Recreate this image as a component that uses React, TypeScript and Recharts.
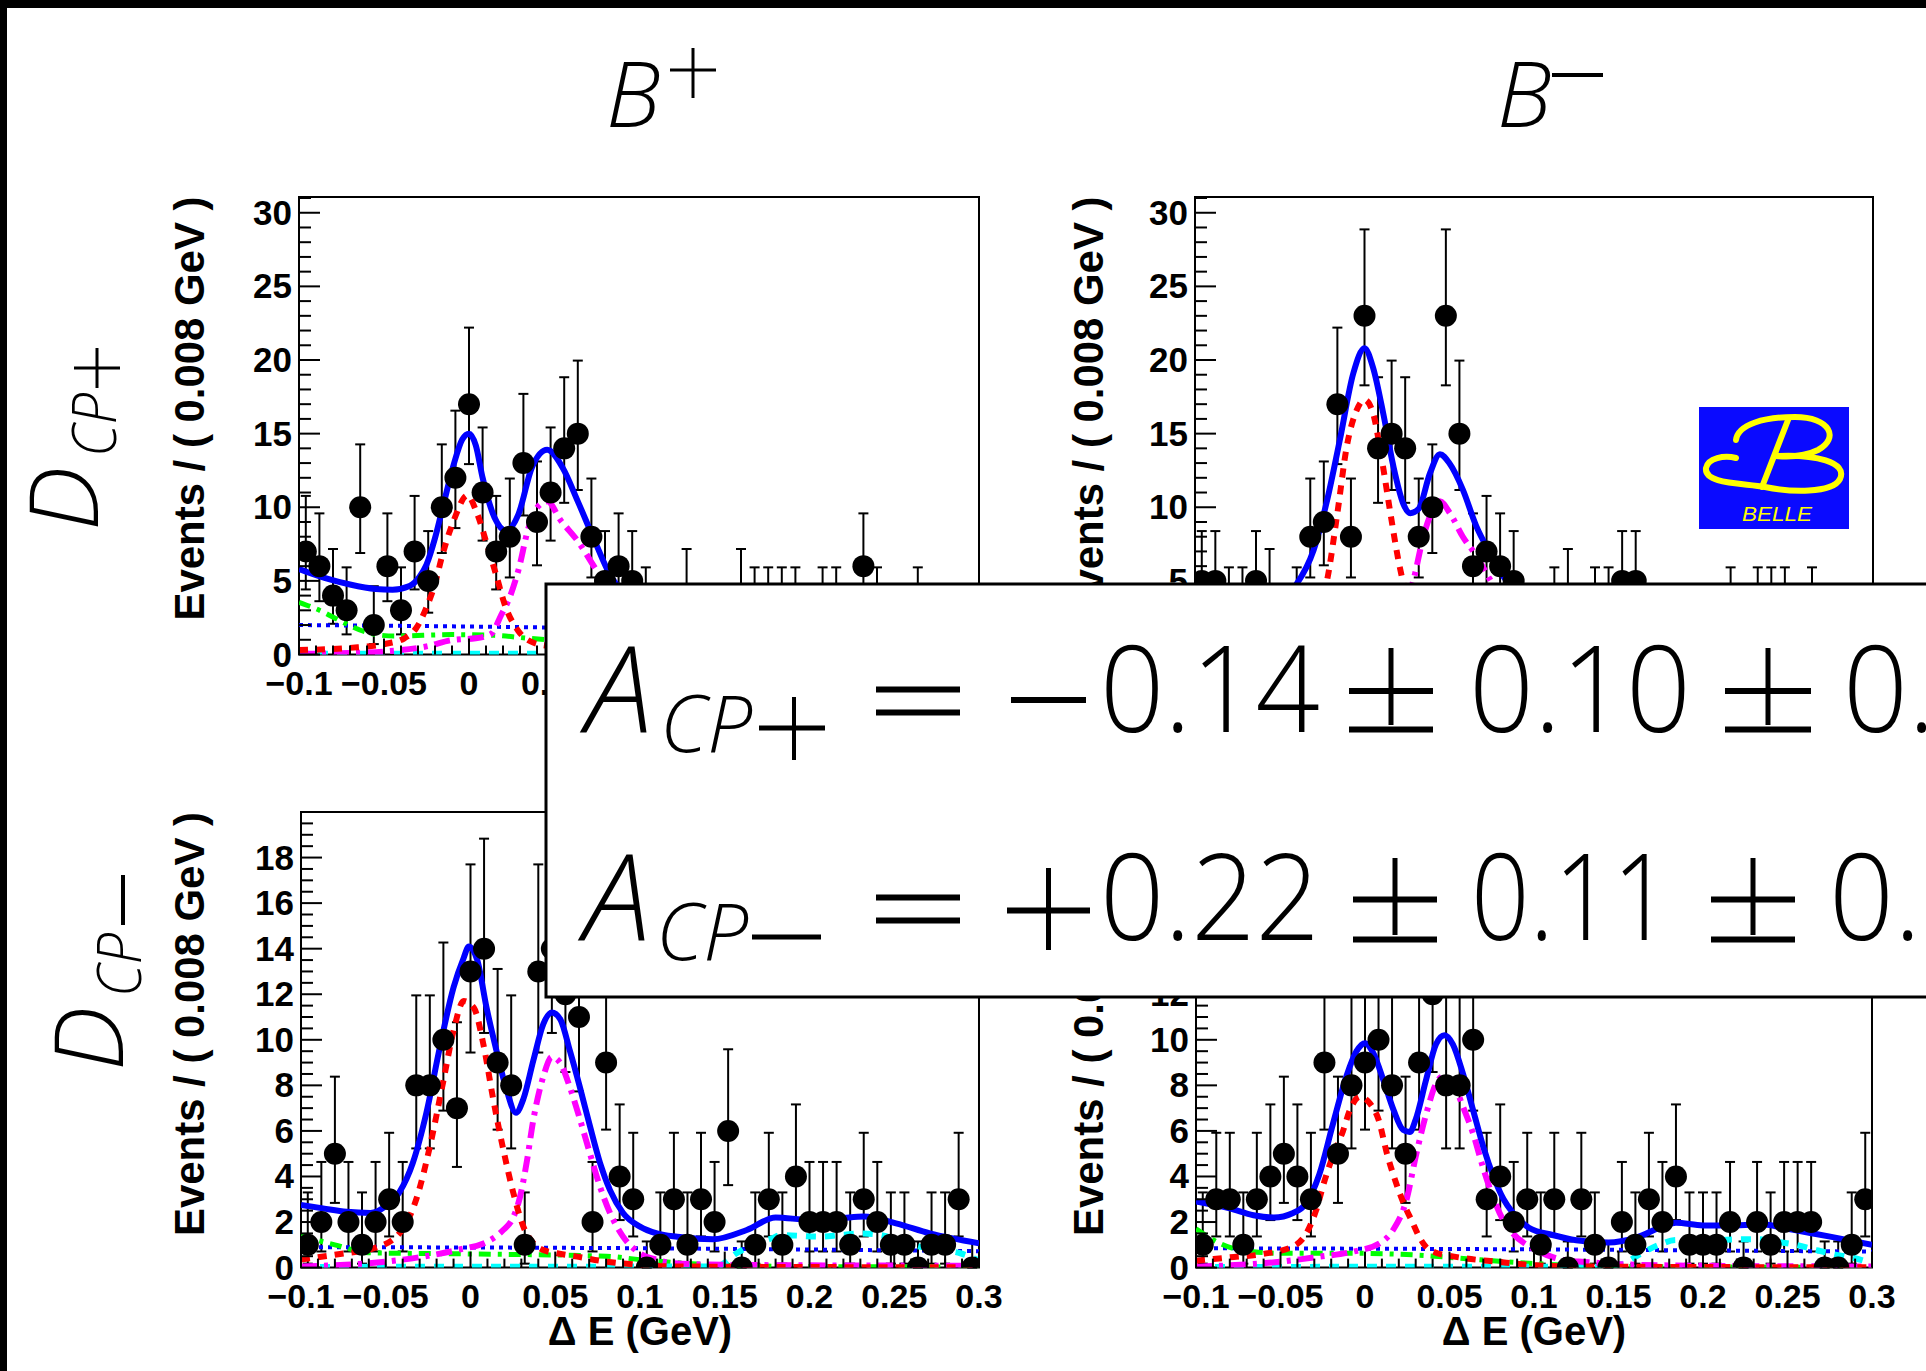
import React from "react";
import { ComposedChart, Line, Scatter, ErrorBar, XAxis, YAxis, ReferenceArea } from "recharts";

// bin centres of the 0.008 GeV histogram
const BIN_CENTERS = [
  -0.096, -0.088, -0.08, -0.072, -0.064, -0.056, -0.048, -0.04, -0.032, -0.024,
  -0.016, -0.008, 0, 0.008, 0.016, 0.024, 0.032, 0.04, 0.048, 0.056,
  0.064, 0.072, 0.08, 0.088, 0.096, 0.104, 0.112, 0.12, 0.128, 0.136,
  0.144, 0.152, 0.16, 0.168, 0.176, 0.184, 0.192, 0.2, 0.208, 0.216,
  0.224, 0.232, 0.24, 0.248, 0.256, 0.264, 0.272, 0.28, 0.288, 0.296,
];

// events per bin
const PLUS_CPP_COUNTS = [7,6,4,3,10,2,6,3,7,5,10,12,17,11,7,8,13,9,11,14,15,8,5,6,5,3,2,1,4,2,1,2,4,3,3,3,3,2,3,3,1,6,3,2,0,3,2,1,2,1];
const MINUS_CPP_COUNTS = [5,5,3,3,5,4,2,3,8,9,17,8,23,14,15,14,8,10,23,15,6,7,6,5,2,1,3,4,2,3,3,5,5,2,1,2,2,1,2,3,2,3,3,3,2,3,1,2,1,2];
const PLUS_CPM_COUNTS = [1,2,5,2,1,2,3,2,8,8,10,7,13,14,9,8,1,13,14,12,11,2,9,4,3,0,1,3,1,3,2,6,0,1,3,1,4,2,2,2,1,3,2,1,1,0,1,1,3,0];
const MINUS_CPM_COUNTS = [1,3,3,1,3,4,5,4,3,9,5,8,9,10,8,5,9,12,8,8,10,3,4,2,3,1,3,0,3,1,0,2,1,3,2,4,1,1,1,2,0,2,1,2,2,2,0,0,1,3];

// 68% Poisson interval for n = 0..23 (lower / upper edge of the error bar)
const POISSON_LOW = [0,0.173,0.708,1.367,2.086,2.84,3.62,4.419,5.232,6.057,6.891,7.734,8.585,9.441,10.3,11.17,12.05,12.93,13.81,14.7,15.59,16.48,17.38,18.28];
const POISSON_HIGH = [1.148,3.3,4.638,5.918,7.163,8.382,9.584,10.77,11.95,13.11,14.27,15.42,16.56,17.7,18.83,19.96,21.08,22.2,23.32,24.44,25.55,26.66,27.76,28.87];

// fit curves, [dE, events]
const PLUS_CPP_TOTAL = [[-0.1,5.8],[-0.085,5.2],[-0.07,4.75],[-0.055,4.45],[-0.045,4.4],[-0.035,4.65],[-0.029,5.3],[-0.025,6.1],[-0.02,7.9],[-0.015,10.2],[-0.009,12.9],[-0.004,14.6],[0,15.0],[0.004,14.2],[0.008,12.0],[0.015,9.3],[0.022,8.4],[0.029,9.5],[0.037,12.7],[0.046,13.9],[0.055,12.7],[0.064,10.4],[0.074,7.7],[0.083,5.4],[0.09,4.3],[0.1,3.3],[0.11,2.9],[0.13,2.6],[0.15,2.4],[0.17,2.9],[0.19,3.0],[0.22,2.9],[0.25,2.7],[0.28,2.2],[0.3,1.9]];
const PLUS_CPP_SIG = [[-0.1,0.3],[-0.07,0.45],[-0.05,0.7],[-0.038,1.1],[-0.031,1.8],[-0.025,3.2],[-0.02,4.8],[-0.016,6.6],[-0.009,9.1],[-0.001,10.8],[0.005,9.5],[0.011,7.3],[0.016,5.4],[0.021,3.4],[0.029,1.6],[0.038,0.8],[0.05,0.55],[0.07,0.42],[0.1,0.3],[0.15,0.15],[0.2,0.08],[0.3,0.03]];
const PLUS_CPP_PEAK2 = [[-0.1,0.05],[-0.07,0.1],[-0.05,0.2],[-0.025,0.55],[-0.009,1.0],[0.004,1.1],[0.013,1.4],[0.019,2.7],[0.024,3.9],[0.029,5.7],[0.035,8.6],[0.041,10.1],[0.046,10.4],[0.054,9.1],[0.064,7.7],[0.074,5.9],[0.083,4.3],[0.095,2.6],[0.11,1.2],[0.13,0.5],[0.16,0.2],[0.2,0.1],[0.3,0.05]];
const PLUS_CPP_BKG_A = [[-0.1,3.55],[-0.086,2.9],[-0.076,2.3],[-0.06,1.5],[-0.044,1.25],[-0.01,1.35],[0.015,1.3],[0.035,1.1],[0.06,0.9],[0.1,0.6],[0.15,0.3],[0.2,0.15],[0.3,0.05]];
const PLUS_CPP_BKG_B = [[-0.1,2.0],[0,1.9],[0.1,1.75],[0.2,1.6],[0.3,1.45]];
const PLUS_CPP_BKG_C = [[-0.1,0.05],[0.14,0.05],[0.15,0.15],[0.165,0.6],[0.18,0.9],[0.2,0.85],[0.23,0.9],[0.26,0.7],[0.28,0.45],[0.3,0.25]];

const MINUS_CPP_TOTAL = [[-0.1,4.0],[-0.08,3.6],[-0.06,3.4],[-0.05,3.6],[-0.045,4.1],[-0.04,4.8],[-0.03,7.1],[-0.022,10.5],[-0.0145,14.6],[-0.0066,19.1],[0,20.8],[0.005,19.5],[0.011,16.4],[0.017,12.8],[0.023,10.2],[0.027,9.6],[0.032,9.9],[0.0386,12.3],[0.0445,13.6],[0.05,13.0],[0.058,11.2],[0.066,8.7],[0.074,6.9],[0.082,5.3],[0.086,4.7],[0.095,3.6],[0.11,2.8],[0.13,2.5],[0.15,2.4],[0.17,2.8],[0.19,2.9],[0.22,2.8],[0.25,2.6],[0.28,2.2],[0.3,1.9]];
const MINUS_CPP_SIG = [[-0.1,0.3],[-0.06,0.6],[-0.04,1.3],[-0.03,2.6],[-0.022,5.1],[-0.016,9.6],[-0.0105,14.1],[-0.0046,16.6],[0,17.3],[0.005,16.4],[0.01,13.4],[0.015,9.8],[0.02,6.4],[0.023,4.8],[0.03,2.2],[0.04,1.0],[0.05,0.7],[0.07,0.5],[0.1,0.3],[0.15,0.15],[0.2,0.08],[0.3,0.03]];
const MINUS_CPP_PEAK2 = [[-0.1,0.05],[-0.05,0.2],[-0.01,0.9],[0.01,1.2],[0.02,2.0],[0.025,3.5],[0.029,5.1],[0.0347,8.0],[0.0406,9.9],[0.0445,10.4],[0.0504,9.6],[0.058,8.0],[0.066,6.7],[0.074,5.1],[0.085,3.2],[0.1,1.5],[0.12,0.6],[0.15,0.2],[0.2,0.1],[0.3,0.05]];
const MINUS_CPP_BKG_A = [[-0.1,2.5],[-0.08,1.6],[-0.06,1.1],[-0.02,1.0],[0.04,0.9],[0.1,0.5],[0.15,0.25],[0.2,0.1],[0.3,0.05]];
const MINUS_CPP_BKG_B = [[-0.1,1.5],[0.1,1.35],[0.3,1.1]];
const MINUS_CPP_BKG_C = [[-0.1,0.05],[0.14,0.05],[0.15,0.15],[0.165,0.6],[0.18,0.9],[0.2,0.85],[0.23,0.9],[0.26,0.7],[0.28,0.45],[0.3,0.25]];

const PLUS_CPM_TOTAL = [[-0.1,2.75],[-0.087,2.6],[-0.073,2.45],[-0.059,2.4],[-0.05,2.7],[-0.042,3.3],[-0.034,4.6],[-0.026,6.8],[-0.018,9.7],[-0.01,12.3],[-0.004,13.6],[-0.001,14.1],[0.004,13.5],[0.0095,11.4],[0.0154,9.5],[0.0213,7.8],[0.0268,6.8],[0.0312,7.4],[0.0371,9.1],[0.043,10.7],[0.048,11.2],[0.053,10.9],[0.0587,9.5],[0.0646,7.9],[0.0705,6.2],[0.0764,4.6],[0.0823,3.4],[0.09,2.4],[0.1,1.8],[0.11,1.5],[0.122,1.35],[0.143,1.24],[0.163,1.65],[0.18,2.2],[0.2,2.1],[0.218,2.16],[0.232,2.24],[0.251,1.94],[0.271,1.5],[0.3,1.07]];
const PLUS_CPM_SIG = [[-0.1,0.35],[-0.077,0.6],[-0.057,0.85],[-0.042,1.5],[-0.032,3.0],[-0.024,5.3],[-0.016,8.2],[-0.01,10.4],[-0.004,11.7],[0.002,11.4],[0.0076,9.8],[0.0135,7.35],[0.0193,5.2],[0.0252,3.3],[0.0312,1.8],[0.0371,1.07],[0.043,0.77],[0.051,0.63],[0.063,0.48],[0.08,0.26],[0.1,0.12],[0.12,0.05],[0.3,0.01]];
const PLUS_CPM_PEAK2 = [[-0.1,0.05],[-0.05,0.26],[-0.028,0.48],[-0.008,0.77],[0.0115,1.2],[0.0193,1.65],[0.0252,2.2],[0.0292,3.1],[0.0331,4.6],[0.0371,6.5],[0.043,8.4],[0.0479,9.25],[0.0528,9.0],[0.0587,7.9],[0.0646,6.5],[0.0705,5.0],[0.0764,3.55],[0.0823,2.4],[0.09,1.36],[0.1,0.63],[0.11,0.34],[0.12,0.19],[0.15,0.12],[0.3,0.08]];
const PLUS_CPM_BKG_A = [[-0.1,1.4],[-0.08,1.0],[-0.06,0.65],[0,0.6],[0.08,0.5],[0.1,0.35],[0.15,0.1],[0.2,0.05],[0.3,0.02]];
const PLUS_CPM_BKG_B = [[-0.1,0.9],[0.1,0.85],[0.3,0.72]];
const PLUS_CPM_BKG_C = [[-0.1,0.03],[0.145,0.05],[0.157,0.63],[0.166,1.0],[0.178,1.29],[0.183,1.43],[0.206,1.36],[0.218,1.43],[0.23,1.5],[0.242,1.43],[0.253,1.2],[0.265,0.92],[0.277,0.77],[0.289,0.63],[0.299,0.34]];

const MINUS_CPM_TOTAL = [[-0.1,2.9],[-0.08,2.6],[-0.066,2.3],[-0.054,2.2],[-0.0425,2.4],[-0.035,2.8],[-0.027,4.1],[-0.019,6.3],[-0.011,8.4],[-0.005,9.5],[0,9.85],[0.005,9.4],[0.011,8.2],[0.017,6.9],[0.0225,6.05],[0.0265,5.95],[0.03,6.5],[0.036,8.2],[0.042,9.8],[0.047,10.2],[0.052,9.8],[0.058,8.5],[0.064,6.9],[0.07,5.3],[0.076,4.0],[0.082,3.0],[0.0875,2.4],[0.097,1.75],[0.111,1.43],[0.125,1.2],[0.144,1.1],[0.16,1.3],[0.177,1.83],[0.184,1.97],[0.2,1.85],[0.215,1.85],[0.235,1.9],[0.25,1.7],[0.265,1.5],[0.276,1.35],[0.3,1.0]];
const MINUS_CPM_SIG = [[-0.1,0.3],[-0.08,0.45],[-0.06,0.6],[-0.042,0.95],[-0.034,1.6],[-0.029,2.5],[-0.024,3.8],[-0.019,4.9],[-0.013,6.0],[-0.009,6.9],[-0.003,7.5],[0.003,7.2],[0.008,6.5],[0.013,5.0],[0.018,3.8],[0.023,2.8],[0.028,2.0],[0.032,1.36],[0.036,0.92],[0.042,0.65],[0.05,0.52],[0.06,0.4],[0.078,0.26],[0.097,0.12],[0.12,0.05],[0.3,0.01]];
const MINUS_CPM_PEAK2 = [[-0.1,0.04],[-0.05,0.26],[-0.027,0.48],[-0.007,0.7],[0.0087,1.07],[0.0166,1.65],[0.0245,2.97],[0.0304,5.0],[0.0363,6.77],[0.0422,8.1],[0.0462,8.4],[0.0521,8.1],[0.058,7.06],[0.0639,5.9],[0.0698,4.4],[0.0757,3.1],[0.0816,2.1],[0.0875,1.5],[0.0974,0.92],[0.1073,0.56],[0.1171,0.34],[0.13,0.25],[0.15,0.15],[0.2,0.08],[0.3,0.05]];
const MINUS_CPM_BKG_A = [[-0.1,1.7],[-0.086,1.07],[-0.074,0.77],[-0.05,0.63],[-0.011,0.63],[0.028,0.56],[0.068,0.34],[0.097,0.19],[0.13,0.08],[0.2,0.03],[0.3,0.01]];
const MINUS_CPM_BKG_B = [[-0.1,0.85],[0.1,0.8],[0.3,0.7]];
const MINUS_CPM_BKG_C = [[-0.1,0.03],[0.14,0.04],[0.152,0.15],[0.162,0.56],[0.174,1.0],[0.184,1.21],[0.198,1.1],[0.21,1.21],[0.222,1.24],[0.233,1.24],[0.243,1.14],[0.255,1.0],[0.267,0.77],[0.279,0.56],[0.29,0.41],[0.3,0.19]];

// axis ticks and labels
const X_MAJOR = [-0.1, -0.05, 0, 0.05, 0.1, 0.15, 0.2, 0.25, 0.3];
const X_LABELS = ["\u22120.1", "\u22120.05", "0", "0.05", "0.1", "0.15", "0.2", "0.25", "0.3"];
const Y_MAJOR_TOP = [0, 5, 10, 15, 20, 25, 30];
const Y_LABELS_TOP = ["0", "5", "10", "15", "20", "25", "30"];
const Y_MAJOR_BOT = [0, 2, 4, 6, 8, 10, 12, 14, 16, 18];
const Y_LABELS_BOT = ["0", "2", "4", "6", "8", "10", "12", "14", "16", "18"];

const X_MINOR = Array.from({ length: 41 }, (_, i) => Math.round((-0.1 + i * 0.01) * 1000) / 1000);
const Y_MINOR_TOP = Array.from({ length: 32 }, (_, i) => i);
const Y_MINOR_BOT = Array.from({ length: 41 }, (_, i) => i * 0.5);

const BOLD = "'Liberation Sans', Arial, Helvetica, sans-serif";
const LIGHT = "'Open Sans', Lato, 'Noto Sans', sans-serif";

const toPts = (arr: number[][]) => arr.map(([x, y]) => ({ x, y }));

const findLabel = (v: number, major: number[], labels: string[]) => {
  const i = major.findIndex((m) => Math.abs(m - v) < 1e-6);
  return i >= 0 ? labels[i] : null;
};

type Curves = { total: number[][]; sig: number[][]; peak2: number[][]; bkgA: number[][]; bkgB: number[][]; bkgC: number[][] };

function Panel(props: {
  left: number; top: number; width: number; height: number; yMax: number;
  yMinor: number[]; yMajor: number[]; yLabels: string[]; counts: number[]; curves: Curves;
}) {
  const { left, top, width, height, yMax, yMinor, yMajor, yLabels, counts, curves } = props;
  const W = width + 200;
  const H = height + 110;
  const pl = 150;
  const pb = 20 + height;
  const points = BIN_CENTERS.map((x, i) => {
    const n = counts[i];
    return { x, y: n, err: [n - POISSON_LOW[n], POISSON_HIGH[n] - n] };
  });

  const xTick = (p: any) => {
    const lab = findLabel(p.payload.value, X_MAJOR, X_LABELS);
    return (
      <g>
        <line x1={p.x} x2={p.x} y1={pb} y2={pb - (lab ? 16 : 9)} stroke="#000" strokeWidth={2} />
        {lab && (
          <text x={p.x} y={pb + 40} textAnchor="middle" fontFamily={BOLD} fontWeight="bold" fontSize={34} fill="#000">
            {lab}
          </text>
        )}
      </g>
    );
  };
  const yTick = (p: any) => {
    const lab = findLabel(p.payload.value, yMajor, yLabels);
    return (
      <g>
        <line x1={pl} x2={pl + (lab ? 21 : 12)} y1={p.y} y2={p.y} stroke="#000" strokeWidth={2} />
        {lab && (
          <text x={pl - 7} y={p.y + 12} textAnchor="end" fontFamily={BOLD} fontWeight="bold" fontSize={35} fill="#000">
            {lab}
          </text>
        )}
      </g>
    );
  };
  const dot = (s: any) => <circle cx={s.cx} cy={s.cy} r={11} fill="#000" />;

  return (
    <div style={{ position: "absolute", left: left - 150, top: top - 20, width: W, height: H }}>
      <ComposedChart width={W} height={H} margin={{ left: 140, top: 20, right: 50, bottom: 80 }}>
        <XAxis dataKey="x" type="number" domain={[-0.1, 0.3]} ticks={X_MINOR} interval={0} tick={xTick}
          tickLine={false} axisLine={false} height={10} allowDataOverflow />
        <YAxis dataKey="y" type="number" domain={[0, yMax]} ticks={yMinor} interval={0} tick={yTick}
          tickLine={false} axisLine={false} width={10} allowDataOverflow />
        <ReferenceArea x1={-0.1} x2={0.3} y1={0} y2={yMax} fill="none" stroke="#000" strokeWidth={2} ifOverflow="visible" />
        <Scatter data={points} dataKey="y" shape={dot} isAnimationActive={false}>
          <ErrorBar dataKey="err" direction="y" width={5} stroke="#000" strokeWidth={2} isAnimationActive={false} />
        </Scatter>
        <Line data={toPts(curves.bkgB)} dataKey="y" type="monotone" stroke="#0000ff" strokeWidth={4} strokeDasharray="4 5" dot={false} activeDot={false} isAnimationActive={false} />
        <Line data={toPts(curves.bkgA)} dataKey="y" type="monotone" stroke="#00ff00" strokeWidth={5} strokeDasharray="12 7 4 7" dot={false} activeDot={false} isAnimationActive={false} />
        <Line data={toPts(curves.bkgC)} dataKey="y" type="monotone" stroke="#00ffff" strokeWidth={6} strokeDasharray="10 9" dot={false} activeDot={false} isAnimationActive={false} />
        <Line data={toPts(curves.peak2)} dataKey="y" type="monotone" stroke="#ff00ff" strokeWidth={6} strokeDasharray="16 7 4 7" dot={false} activeDot={false} isAnimationActive={false} />
        <Line data={toPts(curves.sig)} dataKey="y" type="monotone" stroke="#ff0000" strokeWidth={6} strokeDasharray="9 8" dot={false} activeDot={false} isAnimationActive={false} />
        <Line data={toPts(curves.total)} dataKey="y" type="monotone" stroke="#0000ff" strokeWidth={6} dot={false} activeDot={false} isAnimationActive={false} />
      </ComposedChart>
    </div>
  );
}

const Bar = ({ x1, y1, x2, y2, w = 6 }: { x1: number; y1: number; x2: number; y2: number; w?: number }) => (
  <line x1={x1} y1={y1} x2={x2} y2={y2} stroke="#000" strokeWidth={w} />
);

function Overlay() {
  const yTitle = "Events / ( 0.008 GeV )";
  return (
    <svg width={1926} height={1371} style={{ position: "absolute", left: 0, top: 0, pointerEvents: "none" }}>
      <rect x={0} y={0} width={1926} height={8} fill="#000" />
      <rect x={0} y={0} width={7} height={1371} fill="#000" />

      {/* column titles */}
      <text x={606} y={127} fontFamily={LIGHT} fontWeight={300} fontStyle="italic" fontSize={91}>B</text>
      <Bar x1={693} y1={48} x2={693} y2={98} w={3} />
      <Bar x1={670} y1={70} x2={716} y2={70} w={3} />
      <text x={1497} y={127} fontFamily={LIGHT} fontWeight={300} fontStyle="italic" fontSize={91}>B</text>
      <Bar x1={1552} y1={75} x2={1603} y2={75} w={4} />

      {/* row labels */}
      <g transform="translate(98,531) rotate(-90)">
        <text x={0} y={0} fontFamily={LIGHT} fontWeight={300} fontStyle="italic" fontSize={96}>D</text>
        <text x={74} y={18} fontFamily={LIGHT} fontWeight={300} fontStyle="italic" fontSize={60} textLength={64} lengthAdjust="spacingAndGlyphs">CP</text>
        <Bar x1={143} y1={-1} x2={183} y2={-1} w={3} />
        <Bar x1={163} y1={-24} x2={163} y2={22} w={3} />
      </g>
      <g transform="translate(123,1071) rotate(-90)">
        <text x={0} y={0} fontFamily={LIGHT} fontWeight={300} fontStyle="italic" fontSize={96}>D</text>
        <text x={74} y={18} fontFamily={LIGHT} fontWeight={300} fontStyle="italic" fontSize={60} textLength={64} lengthAdjust="spacingAndGlyphs">CP</text>
        <Bar x1={146} y1={0} x2={196} y2={0} w={4} />
      </g>

      {/* axis titles */}
      {[[204, 196.5], [1103, 196.5], [204, 812], [1103, 812]].map(([x, y], i) => (
        <text key={i} transform={`translate(${x},${y}) rotate(-90)`} textAnchor="end" fontFamily={BOLD}
          fontWeight="bold" fontSize={42} textLength={424} lengthAdjust="spacingAndGlyphs">{yTitle}</text>
      ))}
      <text x={640} y={1345} textAnchor="middle" fontFamily={BOLD} fontWeight="bold" fontSize={40}>{"\u0394 E (GeV)"}</text>
      <text x={1534} y={1345} textAnchor="middle" fontFamily={BOLD} fontWeight="bold" fontSize={40}>{"\u0394 E (GeV)"}</text>

      {/* Belle logo */}
      <rect x={1699} y={407} width={150} height={122} fill="#0a0aff" />
      <g fill="none" stroke="#ffff00" strokeWidth={6} strokeLinecap="round">
        <path d="M 1736 440 C 1738 424, 1765 417, 1795 417 C 1830 417, 1840 438, 1818 450 C 1804 457, 1788 457, 1776 456" />
        <path d="M 1776 456 C 1815 454, 1848 462, 1840 479 C 1832 494, 1790 492, 1765 487 C 1740 483, 1704 484, 1706 468 C 1708 458, 1724 455, 1736 458" />
        <path d="M 1788 420 L 1762 487" />
      </g>
      <text x={1742} y={521} fontFamily={BOLD} fontStyle="italic" fontSize={21} fill="#ffff00" textLength={70} lengthAdjust="spacingAndGlyphs">BELLE</text>

      {/* asymmetry box */}
      <rect x={546} y={584} width={1420} height={413} fill="#fff" stroke="#000" strokeWidth={3} />
      <g fontFamily={LIGHT} fontWeight={300} fill="#000">
        <text x={586} y={732} fontSize={120} fontStyle="italic">A</text>
        <text x={660} y={752} fontSize={80} fontStyle="italic">CP</text>
        <Bar x1={794} y1={697} x2={794} y2={760} w={4} />
        <Bar x1={759} y1={728} x2={825} y2={728} w={5} />
        <Bar x1={876} y1={689.5} x2={960} y2={689.5} />
        <Bar x1={876} y1={712.5} x2={960} y2={712.5} />
        <Bar x1={1011} y1={700} x2={1086} y2={700} />
        <text x={1100} y={732} fontSize={120} textLength={220} lengthAdjust="spacingAndGlyphs">0.14</text>
        <Bar x1={1391} y1={648} x2={1391} y2={725} w={5} />
        <Bar x1={1349} y1={691} x2={1433} y2={691} />
        <Bar x1={1349} y1={729.5} x2={1433} y2={729.5} />
        <text x={1469} y={732} fontSize={120} textLength={222} lengthAdjust="spacingAndGlyphs">0.10</text>
        <Bar x1={1768} y1={648} x2={1768} y2={725} w={5} />
        <Bar x1={1725} y1={691} x2={1811} y2={691} />
        <Bar x1={1725} y1={729.5} x2={1811} y2={729.5} />
        <text x={1843} y={732} fontSize={120} textLength={222} lengthAdjust="spacingAndGlyphs">0.05</text>

        <text x={584} y={940} fontSize={120} fontStyle="italic">A</text>
        <text x={656} y={960} fontSize={80} fontStyle="italic">CP</text>
        <Bar x1={752} y1={937} x2={821} y2={937} w={5} />
        <Bar x1={876} y1={897.5} x2={960} y2={897.5} />
        <Bar x1={876} y1={920.5} x2={960} y2={920.5} />
        <Bar x1={1007} y1={910.5} x2={1090} y2={910.5} />
        <Bar x1={1048.5} y1={868} x2={1048.5} y2={950} w={5} />
        <text x={1100} y={940} fontSize={120} textLength={220} lengthAdjust="spacingAndGlyphs">0.22</text>
        <Bar x1={1395} y1={858} x2={1395} y2={935} w={5} />
        <Bar x1={1353} y1={899.5} x2={1437} y2={899.5} />
        <Bar x1={1353} y1={939.5} x2={1437} y2={939.5} />
        <text x={1471} y={940} fontSize={120} textLength={200} lengthAdjust="spacingAndGlyphs">0.11</text>
        <Bar x1={1753} y1={858} x2={1753} y2={935} w={5} />
        <Bar x1={1711} y1={899.5} x2={1795} y2={899.5} />
        <Bar x1={1711} y1={939.5} x2={1795} y2={939.5} />
        <text x={1829} y={940} fontSize={120} textLength={222} lengthAdjust="spacingAndGlyphs">0.05</text>
      </g>
    </svg>
  );
}

export default function App() {
  return (
    <div style={{ position: "absolute", left: 0, top: 0, width: 1926, height: 1371, overflow: "hidden", background: "#fff" }}>
      <Panel left={299} top={196.5} width={680} height={457.5} yMax={31.07} yMinor={Y_MINOR_TOP} yMajor={Y_MAJOR_TOP} yLabels={Y_LABELS_TOP}
        counts={PLUS_CPP_COUNTS}
        curves={{ total: PLUS_CPP_TOTAL, sig: PLUS_CPP_SIG, peak2: PLUS_CPP_PEAK2, bkgA: PLUS_CPP_BKG_A, bkgB: PLUS_CPP_BKG_B, bkgC: PLUS_CPP_BKG_C }} />
      <Panel left={1195} top={196.5} width={678} height={457.5} yMax={31.07} yMinor={Y_MINOR_TOP} yMajor={Y_MAJOR_TOP} yLabels={Y_LABELS_TOP}
        counts={MINUS_CPP_COUNTS}
        curves={{ total: MINUS_CPP_TOTAL, sig: MINUS_CPP_SIG, peak2: MINUS_CPP_PEAK2, bkgA: MINUS_CPP_BKG_A, bkgB: MINUS_CPP_BKG_B, bkgC: MINUS_CPP_BKG_C }} />
      <Panel left={301} top={812} width={678} height={455.6} yMax={20} yMinor={Y_MINOR_BOT} yMajor={Y_MAJOR_BOT} yLabels={Y_LABELS_BOT}
        counts={PLUS_CPM_COUNTS}
        curves={{ total: PLUS_CPM_TOTAL, sig: PLUS_CPM_SIG, peak2: PLUS_CPM_PEAK2, bkgA: PLUS_CPM_BKG_A, bkgB: PLUS_CPM_BKG_B, bkgC: PLUS_CPM_BKG_C }} />
      <Panel left={1196} top={812} width={676} height={455.6} yMax={20} yMinor={Y_MINOR_BOT} yMajor={Y_MAJOR_BOT} yLabels={Y_LABELS_BOT}
        counts={MINUS_CPM_COUNTS}
        curves={{ total: MINUS_CPM_TOTAL, sig: MINUS_CPM_SIG, peak2: MINUS_CPM_PEAK2, bkgA: MINUS_CPM_BKG_A, bkgB: MINUS_CPM_BKG_B, bkgC: MINUS_CPM_BKG_C }} />
      <Overlay />
    </div>
  );
}
